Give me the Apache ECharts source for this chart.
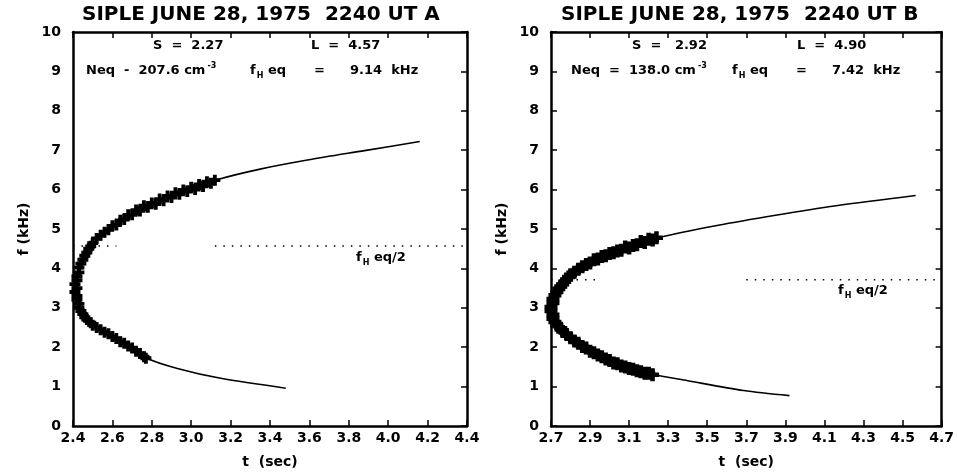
<!DOCTYPE html>
<html>
<head>
<meta charset="utf-8">
<script src="https://cdn.jsdelivr.net/npm/echarts@6/dist/echarts.min.js"></script>
<style>
  html, body { margin: 0; padding: 0; background: #fff; }
  #main { width: 957px; height: 474px; }
</style>
</head>
<body>
<div id="main"></div>
<script>
// panel A: fitted curve (t sec, f kHz)
var fitA = [[4.16, 7.22], [3.88, 6.99], [3.59, 6.75], [3.35, 6.52], [3.13, 6.25], [3.01, 6.03],
  [2.84, 5.69], [2.67, 5.27], [2.57, 4.93], [2.49, 4.57], [2.445, 4.15], [2.42, 3.65],
  [2.418, 3.30], [2.435, 2.94], [2.485, 2.61], [2.57, 2.35], [2.67, 2.06], [2.765, 1.74],
  [2.93, 1.46], [3.15, 1.21], [3.48, 0.96]];
// panel A: measured points
var measA = [[3.12, 6.24], [3.10, 6.16], [3.08, 6.20], [3.06, 6.08], [3.04, 6.13], [3.02, 6.00],
  [3.00, 6.06], [2.98, 5.95], [2.96, 5.99], [2.94, 5.88], [2.92, 5.92], [2.90, 5.80],
  [2.88, 5.84], [2.86, 5.72], [2.84, 5.76], [2.82, 5.63], [2.80, 5.66], [2.78, 5.55],
  [2.76, 5.59], [2.74, 5.46], [2.72, 5.48], [2.70, 5.36], [2.68, 5.36], [2.66, 5.24],
  [2.64, 5.22], [2.62, 5.10], [2.60, 5.08], [2.58, 4.98], [2.56, 4.92], [2.54, 4.84],
  [2.52, 4.76], [2.50, 4.64], [2.49, 4.56], [2.48, 4.50], [2.47, 4.40], [2.46, 4.32],
  [2.45, 4.22], [2.44, 4.12], [2.43, 4.02], [2.43, 3.90], [2.42, 3.80], [2.42, 3.70],
  [2.41, 3.60], [2.42, 3.50], [2.41, 3.40], [2.42, 3.30], [2.42, 3.20], [2.43, 3.10],
  [2.43, 3.00], [2.44, 2.92], [2.45, 2.84], [2.46, 2.76], [2.47, 2.70], [2.49, 2.62],
  [2.50, 2.56], [2.52, 2.50], [2.54, 2.44], [2.56, 2.38], [2.58, 2.34], [2.60, 2.27],
  [2.62, 2.22], [2.64, 2.14], [2.66, 2.10], [2.68, 2.03], [2.70, 1.98], [2.72, 1.90],
  [2.74, 1.84], [2.76, 1.76], [2.77, 1.72]];
var halfA = 4.57;
var halfSegA = [[2.40, 2.62], [3.12, 4.40]];

// panel B
var fitB = [[4.567, 5.85], [4.16, 5.59], [3.85, 5.35], [3.55, 5.09], [3.249, 4.78], [3.115, 4.57],
  [2.98, 4.35], [2.863, 4.06], [2.779, 3.73], [2.729, 3.39], [2.703, 2.93], [2.729, 2.55],
  [2.796, 2.21], [2.896, 1.91], [3.031, 1.58], [3.215, 1.32], [3.40, 1.15], [3.686, 0.90],
  [3.921, 0.77]];
var measB = [[3.24, 4.78], [3.22, 4.72], [3.20, 4.74], [3.18, 4.66], [3.16, 4.68], [3.14, 4.60],
  [3.12, 4.58], [3.10, 4.52], [3.08, 4.54], [3.06, 4.46], [3.04, 4.44], [3.02, 4.40],
  [3.00, 4.38], [2.98, 4.32], [2.96, 4.30], [2.94, 4.24], [2.92, 4.22], [2.90, 4.14],
  [2.88, 4.10], [2.86, 4.04], [2.84, 3.98], [2.82, 3.90], [2.80, 3.84], [2.79, 3.78],
  [2.78, 3.72], [2.77, 3.66], [2.76, 3.60], [2.75, 3.54], [2.74, 3.48], [2.73, 3.40],
  [2.72, 3.32], [2.71, 3.22], [2.71, 3.12], [2.70, 3.02], [2.70, 2.92], [2.71, 2.82],
  [2.71, 2.72], [2.72, 2.64], [2.73, 2.56], [2.75, 2.48], [2.76, 2.40], [2.78, 2.32],
  [2.80, 2.24], [2.82, 2.16], [2.84, 2.10], [2.86, 2.02], [2.88, 1.98], [2.90, 1.90],
  [2.92, 1.86], [2.94, 1.80], [2.96, 1.76], [2.98, 1.70], [3.00, 1.66], [3.02, 1.60],
  [3.04, 1.58], [3.06, 1.52], [3.08, 1.50], [3.10, 1.46], [3.12, 1.44], [3.14, 1.40],
  [3.16, 1.38], [3.18, 1.34], [3.20, 1.34], [3.22, 1.30]];
var halfB = 3.71;
var halfSegB = [[2.70, 2.96], [3.70, 4.70]];

var chart = echarts.init(document.getElementById('main'));

var FONT = 'DejaVu Sans';
var plus = 'path://M2.6,0H5.4V2.6H8V5.4H5.4V8H2.6V5.4H0V2.6H2.6Z';
var rich = {
  b: { fontFamily: FONT, fontWeight: 'bold', fontSize: 13, color: '#000', lineHeight: 18 },
  sub: { fontFamily: FONT, fontWeight: 'bold', fontSize: 8, color: '#000', verticalAlign: 'bottom', lineHeight: 18, padding: [0, 0, 0, 1] },
  sup: { fontFamily: FONT, fontWeight: 'bold', fontSize: 8, color: '#000', verticalAlign: 'top', lineHeight: 18, padding: [0, 0, 0, 2] }
};

function txt(text, left, top) {
  return { text: text, left: left, top: top, padding: 0, textStyle: { rich: rich } };
}

function segs(list, y) {
  return list.map(function (s) { return [[s[0], y], [s[1], y]]; });
}

function xAxes(grid, min, max) {
  var common = {
    gridIndex: grid, type: 'value', min: min, max: max, interval: 0.2,
    splitLine: { show: false },
    axisLine: { onZero: false, lineStyle: { color: '#000', width: 2.5 } },
    axisTick: { inside: true, length: 6, lineStyle: { color: '#000', width: 1.5 } }
  };
  return [
    Object.assign({}, common, {
      position: 'bottom',
      name: 't  (sec)', nameLocation: 'middle', nameGap: 29,
      nameTextStyle: { fontFamily: FONT, fontWeight: 'bold', fontSize: 14, color: '#000' },
      axisLabel: { fontFamily: FONT, fontWeight: 'bold', fontSize: 14, color: '#000', margin: 5,
        formatter: function (v) { return v.toFixed(1); } }
    }),
    Object.assign({}, common, { position: 'top', axisLabel: { show: false } })
  ];
}

function yAxes(grid, leftTicks) {
  var common = {
    gridIndex: grid, type: 'value', min: 0, max: 10, interval: 1,
    splitLine: { show: false },
    axisLine: { onZero: false, lineStyle: { color: '#000', width: 2.5 } },
    axisTick: { inside: true, length: 6, lineStyle: { color: '#000', width: 1.5 } }
  };
  return [
    Object.assign({}, common, {
      position: 'left',
      axisTick: { show: leftTicks, inside: true, length: 6, lineStyle: { color: '#000', width: 1.5 } },
      name: 'f (kHz)', nameLocation: 'middle', nameGap: 42, nameRotate: 90,
      nameTextStyle: { fontFamily: FONT, fontWeight: 'bold', fontSize: 14, color: '#000' },
      axisLabel: { fontFamily: FONT, fontWeight: 'bold', fontSize: 14, color: '#000', margin: 12 }
    }),
    Object.assign({}, common, { position: 'right', axisLabel: { show: false } })
  ];
}

function panelSeries(xi, yi, fit, meas, half, halfSeg, size) {
  var out = [
    { type: 'line', xAxisIndex: xi, yAxisIndex: yi, data: fit, smooth: 0.3,
      showSymbol: false, lineStyle: { color: '#000', width: 1.6 }, silent: true },
    { type: 'scatter', xAxisIndex: xi, yAxisIndex: yi, data: meas, symbol: plus, symbolSize: size,
      itemStyle: { color: '#000', opacity: 1 }, silent: true }
  ];
  segs(halfSeg, half).forEach(function (d) {
    out.push({ type: 'line', xAxisIndex: xi, yAxisIndex: yi, data: d, showSymbol: false,
      lineStyle: { color: '#000', width: 1.5, type: [1.5, 7] }, silent: true });
  });
  return out;
}

var xa = xAxes(0, 2.4, 4.4).concat(xAxes(1, 2.7, 4.7));
var ya = yAxes(0, false).concat(yAxes(1, true));

chart.setOption({
  animation: false,
  backgroundColor: '#fff',
  grid: [
    { left: 73, top: 32, width: 394, height: 394 },
    { left: 551, top: 32, width: 397, height: 395 }
  ],
  title: [
    { text: 'SIPLE JUNE 28, 1975  2240 UT A', left: 82, top: 5, padding: 0,
      textStyle: { fontFamily: FONT, fontWeight: 'bold', fontSize: 20, color: '#000' } },
    { text: 'SIPLE JUNE 28, 1975  2240 UT B', left: 561, top: 5, padding: 0,
      textStyle: { fontFamily: FONT, fontWeight: 'bold', fontSize: 20, color: '#000' } },
    txt('{b|S  =  2.27}', 153, 37),
    txt('{b|L  =  4.57}', 311, 37),
    txt('{b|Neq  -  207.6 cm}{sup|-3}', 86, 62),
    txt('{b|f}{sub|H}{b| eq}', 250, 62),
    txt('{b|=}', 314, 62),
    txt('{b|9.14  kHz}', 350, 62),
    txt('{b|f}{sub|H}{b| eq/2}', 356, 249),
    txt('{b|S  =   2.92}', 632, 37),
    txt('{b|L  =  4.90}', 797, 37),
    txt('{b|Neq  =  138.0 cm}{sup|-3}', 571, 62),
    txt('{b|f}{sub|H}{b| eq}', 732, 62),
    txt('{b|=}', 796, 62),
    txt('{b|7.42  kHz}', 832, 62),
    txt('{b|f}{sub|H}{b| eq/2}', 838, 282)
  ],
  xAxis: xa,
  yAxis: ya,
  series: panelSeries(0, 0, fitA, measA, halfA, halfSegA, 11)
    .concat(panelSeries(2, 2, fitB, measB, halfB, halfSegB, 13))
});
</script>
</body>
</html>
